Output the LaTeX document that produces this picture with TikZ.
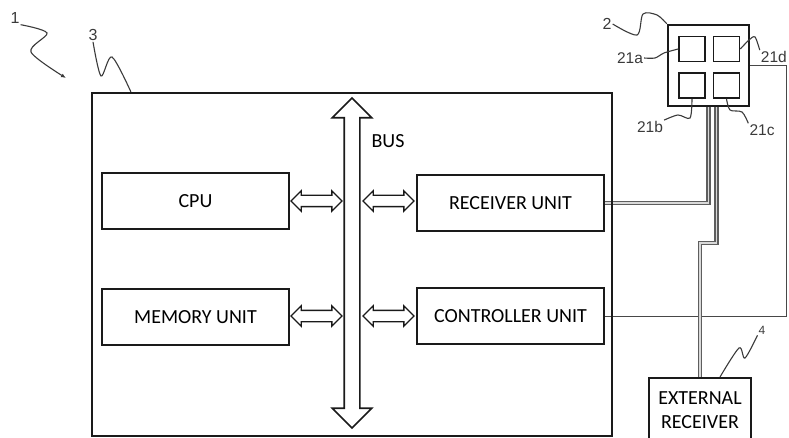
\documentclass[tikz,border=0pt]{standalone}
\usepackage{fontspec}
\setmainfont{Carlito}
\newfontfamily\refsfont{Liberation Sans}
\usepackage{tikz}
\usetikzlibrary{arrows.meta,shapes.arrows,backgrounds,calc}
\definecolor{ink}{HTML}{1A1A1A}
\definecolor{wiregray}{HTML}{5E5E5E}
\definecolor{leadgray}{HTML}{3A3A3A}
\tikzset{
  >={Latex[length=5pt,width=4pt]},
  unit/.style={draw=ink,line width=2pt,minimum width=187pt,minimum height=56pt,
    inner sep=0pt,align=center,font=\fontsize{20}{24}\selectfont},
  chip/.style={draw=ink,line width=1.6pt,minimum width=26pt,minimum height=25pt,inner sep=0pt},
  busarrow/.style={double arrow,draw=ink,line width=1.6pt,inner xsep=0pt,inner ysep=7pt,
    minimum height=330pt,double arrow head extend=12pt,rotate=90},
  linkarrow/.style={double arrow,draw=ink,line width=1.4pt,inner xsep=0pt,inner ysep=5pt,
    minimum height=51pt,double arrow head extend=4.5pt},
  wire/.style={draw=wiregray,double=white!85!black,double distance=1.6pt,line width=1.3pt},
  thinwire/.style={draw=ink!80,line width=1pt},
  refnum/.style={font=\refsfont\fontsize{15.5}{16}\selectfont,text=leadgray,inner sep=1pt},
  leader/.style={draw=leadgray,line width=1.1pt}
}

\begin{document}
\begin{tikzpicture}[x=1pt,y=-1pt]
  \useasboundingbox (0,0) rectangle (789,438);
  % system box and its units
  \node[draw=ink,line width=2.2pt,minimum width=520pt,minimum height=343pt] (main) at (352,264.5) {};
  \node[unit] (cpu) at (195.5,201) {CPU};
  \node[unit] (mem) at (195.5,317) {MEMORY UNIT};
  \node[unit] (recv) at (510.5,203) {RECEIVER UNIT};
  \node[unit] (ctrl) at (510.5,316) {CONTROLLER UNIT};
  \node[busarrow] (bus) at (352,263) {};
  \node[font=\fontsize{20}{20}\selectfont] (buslbl) at (388,141) {BUS};
  \node[linkarrow] (cpulink) at (316.5,201) {};
  \node[linkarrow] (recvlink) at (388.5,201) {};
  \node[linkarrow] (memlink) at (316.5,316) {};
  \node[linkarrow] (ctrllink) at (388.5,316) {};
  % sensor with four elements
  \node[draw=ink,line width=2.4pt,minimum size=81pt,inner sep=0pt] (sensor) at (708.5,65.5) {};
  \node[chip] (chipA) at (692,49) {};
  \node[chip] (chipD) at (726.5,49) {};
  \node[chip] (chipB) at (692,85.5) {};
  \node[chip] (chipC) at (726.5,85.5) {};
  \node[unit,minimum width=102pt,minimum height=64pt] (extrx) at (700,410) {EXTERNAL\\RECEIVER};
  % wiring
  \begin{scope}[on background layer]
    \draw[thinwire] (ctrl.east) -- ++(181,0) |- (sensor.east);
    \draw[wire] (sensor.south) |- (recv.east);
    \draw[wire] ([xshift=8pt]sensor.south) -- ++(0,136) -| (extrx.north);
  \end{scope}
  % reference numerals
  \node[refnum,font=\refsfont\fontsize{16}{16}\selectfont] (l1) at (15,18) {1};
  \node[refnum,font=\refsfont\fontsize{16}{16}\selectfont] (l3) at (93,35) {3};
  \node[refnum,font=\refsfont\fontsize{16}{16}\selectfont] (l2) at (607,24) {2};
  \node[refnum] (l21a) at (630,58) {21a};
  \node[refnum,anchor=east] (l21d) at (788,57) {21d};
  \node[refnum] (l21b) at (650,127) {21b};
  \node[refnum] (l21c) at (762,130) {21c};
  \node[refnum,font=\refsfont\fontsize{12}{12}\selectfont] (l4) at (762,330) {4};
  \draw[leader,->] plot[smooth] coordinates {(l1.south east) (47,33) (31,52) (66,78)};
  \draw[leader] plot[smooth] coordinates {(l3.south) (101,76) (112,57) ($(main.north west)+(40,0)$)};
  \draw[leader] plot[smooth] coordinates {(l2.east) (637,35) (643,14) (657,15) (sensor.north west)};
  \draw[leader] plot[smooth] coordinates {(l21a.east) (655,58) (664,53) (chipA.west)};
  \draw[leader] plot[smooth] coordinates {(chipD.east) (749,40) (755,37) (l21d.north west)};
  \draw[leader] plot[smooth] coordinates {(l21b.north east) (678,115) (690,118) (chipB.south)};
  \draw[leader] plot[smooth] coordinates {(chipC.south) (730,110) (742,112) (l21c.north west)};
  \draw[leader] plot[smooth] coordinates {(l4.south west) (745,358) (739,348) ($(extrx.north)+(20,0)$)};
\end{tikzpicture}
\end{document}
